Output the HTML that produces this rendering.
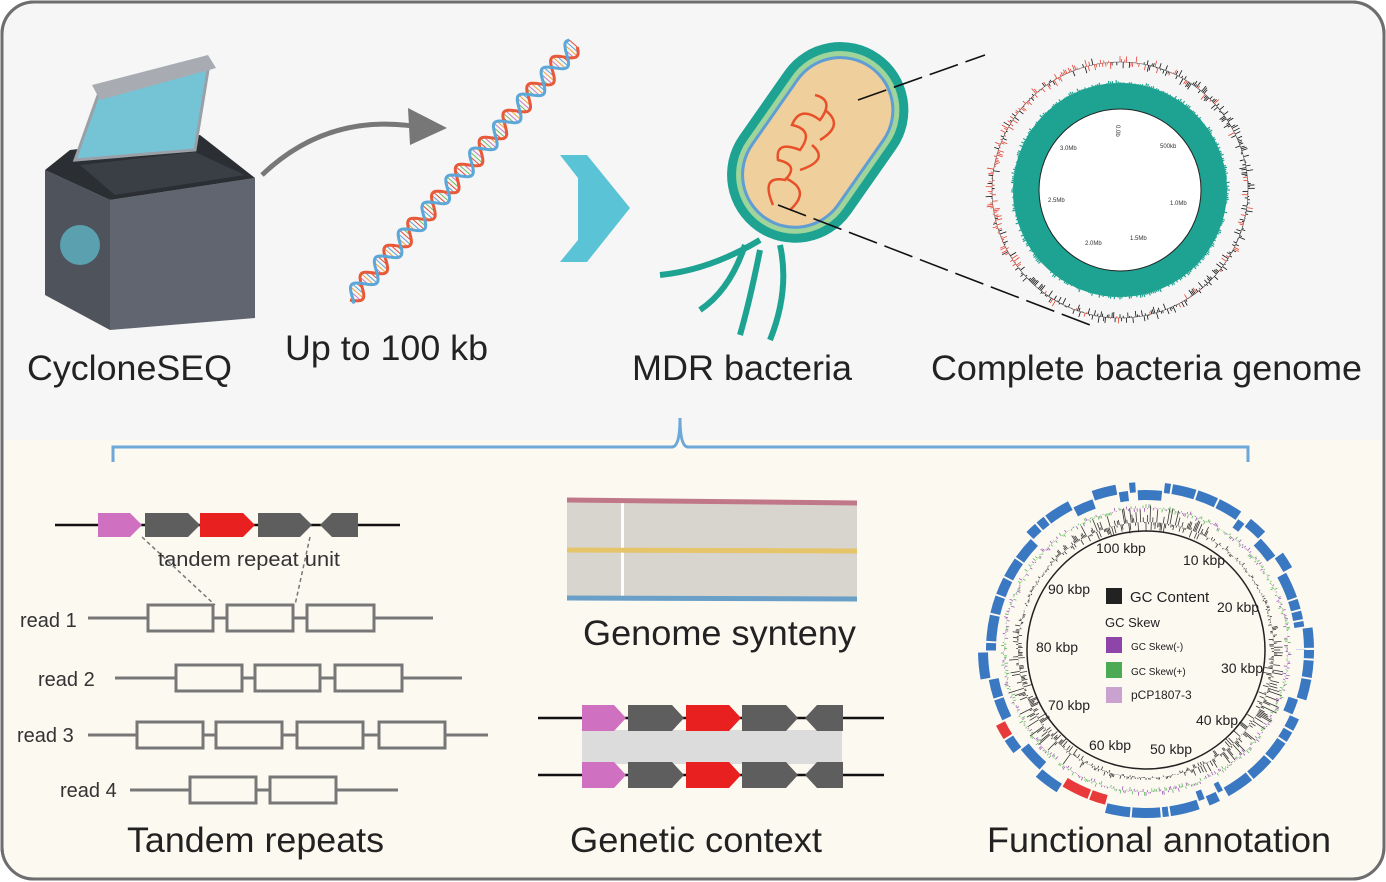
<!DOCTYPE html>
<html><head><meta charset="utf-8"><style>
html,body{margin:0;padding:0;background:#fff;}
svg{display:block;font-family:"Liberation Sans",Arial,sans-serif;}
</style></head><body>
<svg id="s" width="1386" height="882" viewBox="0 0 1386 882" xmlns="http://www.w3.org/2000/svg">
<rect x="2" y="2" width="1382" height="877" rx="32" fill="#f6f6f6" stroke="#6e6e6e" stroke-width="3"/>
<path d="M4 440 H1382 V848 Q1382 877 1352 877 H34 Q4 877 4 848 Z" fill="#fcf9f1"/>
<rect x="2" y="2" width="1382" height="877" rx="32" fill="none" stroke="#6e6e6e" stroke-width="3"/>
<path d="M113 462 V447 H672 Q680 447 680 418 Q680 447 688 447 H1248 V462" fill="none" stroke="#6ea8d8" stroke-width="3"/>

<g>
<path d="M45 170 L110 200 L110 330 L45 295 Z" fill="#4e535c"/>
<path d="M110 200 L255 178 L255 318 L110 330 Z" fill="#60656f"/>
<path d="M45 170 L70 150 L200 135 L255 178 L110 200 Z" fill="#2b2e33"/>
<path d="M75 160 L100 90 L205 62 L208 70 L195 150 Z" fill="#74c4d6" stroke="#9aa0a8" stroke-width="3"/>
<path d="M92 85 L208 55 L216 68 L100 100 Z" fill="#a8acb2"/>
<path d="M80 165 L195 152 L245 175 L115 195 Z" fill="#3a3e45"/>
<circle cx="80" cy="245" r="20" fill="#5fb9c9" opacity="0.75"/>
</g>
<path d="M262 175 Q330 110 425 128" fill="none" stroke="#777" stroke-width="5"/>
<path d="M408 108 L447 128 L410 145 Z" fill="#777"/>
<g id="dna"></g>
<path d="M560 155 L587 155 L630 208 L587 262 L560 262 L578 240 L578 178 Z" fill="#5bc3d6"/>
<g transform="rotate(35 818 142)">
<rect x="750" y="35" width="136" height="215" rx="68" fill="#1ea393"/>
<rect x="759" y="44" width="118" height="197" rx="59" fill="#9fd49a"/>
<rect x="764" y="49" width="108" height="187" rx="54" fill="#5f9dd4"/>
<rect x="767" y="52" width="102" height="181" rx="51" fill="#efcf9c"/>
</g>
<path d="M760 240 Q710 270 660 275 M745 245 Q730 290 700 310 M760 250 Q750 300 740 335 M780 245 Q790 290 770 340" fill="none" stroke="#1ea393" stroke-width="6"/>
<path d="M773 205 Q760 175 785 180 Q800 165 778 160 Q775 140 800 150 Q815 130 792 125 Q800 105 820 120 Q835 100 815 95 M790 210 Q812 190 785 178 M800 170 Q830 160 812 145 M820 140 Q845 125 825 110" fill="none" stroke="#e8502a" stroke-width="2.5"/>
<path d="M858 100 L985 55 M778 205 L1090 325" stroke="#111" stroke-width="1.6" stroke-dasharray="30 8"/>
<g id="cg"></g>
<circle cx="1120" cy="190" r="94" fill="none" stroke="#1ea393" stroke-width="26"/>
<circle cx="1120" cy="190" r="81" fill="#fff" stroke="#222" stroke-width="1"/>
<g font-size="6" fill="#333">
<text x="1116" y="125" transform="rotate(90 1116 125)">0.0b</text>
<text x="1160" y="148">500kb</text><text x="1170" y="205">1.0Mb</text>
<text x="1130" y="240">1.5Mb</text><text x="1085" y="245">2.0Mb</text>
<text x="1048" y="202">2.5Mb</text><text x="1060" y="150">3.0Mb</text>
</g>

<g font-size="35" fill="#222">
<text x="27" y="380" textLength="205" lengthAdjust="spacingAndGlyphs">CycloneSEQ</text>
<text x="285" y="360" textLength="203" lengthAdjust="spacingAndGlyphs">Up to 100 kb</text>
<text x="632" y="380" textLength="220" lengthAdjust="spacingAndGlyphs">MDR bacteria</text>
<text x="931" y="380" textLength="431" lengthAdjust="spacingAndGlyphs">Complete bacteria genome</text>
<text x="127" y="852" textLength="257" lengthAdjust="spacingAndGlyphs">Tandem repeats</text>
<text x="583" y="645" textLength="273" lengthAdjust="spacingAndGlyphs">Genome synteny</text>
<text x="570" y="852" textLength="252" lengthAdjust="spacingAndGlyphs">Genetic context</text>
<text x="987" y="852" textLength="344" lengthAdjust="spacingAndGlyphs">Functional annotation</text>
</g>

<line x1="55" y1="525" x2="400" y2="525" stroke="#111" stroke-width="2.5"/>
<g id="ta"></g>
<path d="M142 537 L215 605 M310 537 L295 605" stroke="#777" stroke-width="1.5" stroke-dasharray="4 3"/>
<text x="158" y="566" font-size="20" fill="#333" textLength="182" lengthAdjust="spacingAndGlyphs">tandem repeat unit</text>
<g font-size="20" fill="#333">
<text x="20" y="627">read 1</text><text x="38" y="686">read 2</text>
<text x="17" y="742">read 3</text><text x="60" y="797">read 4</text>
</g>
<g stroke="#777" stroke-width="3" fill="none">
<line x1="88" y1="618" x2="433" y2="618"/><line x1="115" y1="678" x2="462" y2="678"/>
<line x1="88" y1="735" x2="488" y2="735"/><line x1="130" y1="790" x2="398" y2="790"/>
<rect x="148" y="605" width="65" height="26" fill="#fcf9f1"/><rect x="227" y="605" width="66" height="26" fill="#fcf9f1"/><rect x="307" y="605" width="67" height="26" fill="#fcf9f1"/>
<rect x="176" y="665" width="66" height="26" fill="#fcf9f1"/><rect x="255" y="665" width="65" height="26" fill="#fcf9f1"/><rect x="335" y="665" width="67" height="26" fill="#fcf9f1"/>
<rect x="137" y="722" width="66" height="26" fill="#fcf9f1"/><rect x="216" y="722" width="66" height="26" fill="#fcf9f1"/><rect x="297" y="722" width="66" height="26" fill="#fcf9f1"/><rect x="379" y="722" width="66" height="26" fill="#fcf9f1"/>
<rect x="190" y="777" width="66" height="26" fill="#fcf9f1"/><rect x="270" y="777" width="66" height="26" fill="#fcf9f1"/>
</g>
<path d="M567 502 L857 502 L857 598 L567 598 Z" fill="#d8d5cf"/>
<rect x="621" y="502" width="3" height="96" fill="#fff"/>
<line x1="567" y1="500" x2="857" y2="503" stroke="#c07888" stroke-width="5"/>
<line x1="567" y1="550" x2="857" y2="551" stroke="#e6c46a" stroke-width="5"/>
<line x1="567" y1="598" x2="857" y2="599" stroke="#6aa0c8" stroke-width="5"/>
<rect x="582" y="730" width="260" height="34" fill="#dcdcdc"/>
<line x1="538" y1="718" x2="884" y2="718" stroke="#111" stroke-width="2.5"/>
<line x1="538" y1="775" x2="884" y2="775" stroke="#111" stroke-width="2.5"/>
<g id="gc"></g>
<g id="fa"></g>
<circle cx="1146" cy="650" r="119" fill="none" stroke="#222" stroke-width="1.5"/>
<g font-size="14" fill="#222">
<text x="1096" y="553">100 kbp</text><text x="1183" y="565">10 kbp</text>
<text x="1048" y="594">90 kbp</text><text x="1217" y="612">20 kbp</text>
<text x="1036" y="652">80 kbp</text><text x="1221" y="673">30 kbp</text>
<text x="1048" y="710">70 kbp</text><text x="1196" y="725">40 kbp</text>
<text x="1089" y="750">60 kbp</text><text x="1150" y="754">50 kbp</text>
<rect x="1106" y="588" width="16" height="16" fill="#222"/><text x="1130" y="602" font-size="15">GC Content</text>
<text x="1105" y="627" font-size="13">GC Skew</text>
<rect x="1106" y="637" width="16" height="16" fill="#8e44a8"/><text x="1131" y="650" font-size="10">GC Skew(-)</text>
<rect x="1106" y="662" width="16" height="16" fill="#4caa55"/><text x="1131" y="675" font-size="10">GC Skew(+)</text>
<rect x="1106" y="687" width="16" height="16" fill="#c9a2d0"/><text x="1131" y="699" font-size="12">pCP1807-3</text>
</g>
</svg>
<script>
var NS="http://www.w3.org/2000/svg";
function el(p,t,a){var e=document.createElementNS(NS,t);for(var k in a)e.setAttribute(k,a[k]);p.appendChild(e);return e;}
var seed=7;function rnd(){seed=(seed*9301+49297)%233280;return seed/233280;}
var dg=document.getElementById('dna');var x0=350,y0=300,x1=575,y1=45;var L=Math.hypot(x1-x0,y1-y0);var ux=(x1-x0)/L,uy=(y1-y0)/L,nx=-uy,ny=ux;
var pa="",pb="";var cols=["#e84a3a","#f2a23a","#6bbf5a","#5aa0d8","#c77ac9"];
for(var i=0;i<=200;i++){var t=i/200*L;var ph=t/36*2*Math.PI;var a=Math.sin(ph)*9,b=Math.sin(ph+Math.PI*0.8)*9;
var cx=x0+ux*t,cy=y0+uy*t;pa+=(i?"L":"M")+(cx+nx*a).toFixed(1)+" "+(cy+ny*a).toFixed(1);pb+=(i?"L":"M")+(cx+nx*b).toFixed(1)+" "+(cy+ny*b).toFixed(1);
if(i%2==0)el(dg,'line',{x1:cx+nx*a,y1:cy+ny*a,x2:cx+nx*b,y2:cy+ny*b,stroke:cols[i%5],'stroke-width':1});}
el(dg,'path',{d:pa,fill:'none',stroke:'#e8593a','stroke-width':3});el(dg,'path',{d:pb,fill:'none',stroke:'#5aa7d8','stroke-width':3});
var g=document.getElementById('cg');var gx=1120,gy=190;
el(g,'circle',{cx:gx,cy:gy,r:128,fill:'none',stroke:'#555','stroke-width':0.6});
for(var i=0;i<500;i++){var an=i/500*2*Math.PI;var r0=128;var h=(rnd()-0.5)*14;var c=Math.cos(an),s=Math.sin(an);
var col=(c<0.2&&s<0.6)?(rnd()<0.75?"#e8402f":"#111"):(rnd()<0.85?"#111":"#e8402f");
el(g,'line',{x1:gx+c*r0,y1:gy+s*r0,x2:gx+c*(r0+h),y2:gy+s*(r0+h),stroke:col,'stroke-width':0.8});}
for(var i=0;i<360;i++){var an=i/360*2*Math.PI;var h=rnd()*4;el(g,'line',{x1:gx+Math.cos(an)*106,y1:gy+Math.sin(an)*106,x2:gx+Math.cos(an)*(106+h),y2:gy+Math.sin(an)*(106+h),stroke:'#1ea393','stroke-width':1.2});}
function arr(p,x,w,y,h,col,rev){var tip=12;var pd;if(!rev)pd="M"+x+" "+(y-h/2)+"H"+(x+w-tip)+"L"+(x+w)+" "+y+"L"+(x+w-tip)+" "+(y+h/2)+"H"+x+"Z";
else pd="M"+(x+w)+" "+(y-h/2)+"H"+(x+tip)+"L"+x+" "+y+"L"+(x+tip)+" "+(y+h/2)+"H"+(x+w)+"Z";el(p,'path',{d:pd,fill:col});}
var ta=document.getElementById('ta');
arr(ta,98,44,525,24,"#d070c0");arr(ta,145,55,525,24,"#5e5e5e");arr(ta,200,55,525,24,"#e82020");arr(ta,258,54,525,24,"#5e5e5e");arr(ta,320,38,525,24,"#5e5e5e",1);
var gc=document.getElementById('gc');
[718,775].forEach(function(y){arr(gc,582,44,y,26,"#d070c0");arr(gc,628,56,y,26,"#5e5e5e");arr(gc,686,55,y,26,"#e82020");arr(gc,742,56,y,26,"#5e5e5e");arr(gc,805,38,y,26,"#5e5e5e",1);});
var fa=document.getElementById('fa');var fx=1146,fy=650;
function arc(r1,r2,a1,a2,col){var p="M"+(fx+r1*Math.cos(a1))+" "+(fy+r1*Math.sin(a1))+"A"+r1+" "+r1+" 0 0 1 "+(fx+r1*Math.cos(a2))+" "+(fy+r1*Math.sin(a2))+"L"+(fx+r2*Math.cos(a2))+" "+(fy+r2*Math.sin(a2))+"A"+r2+" "+r2+" 0 0 0 "+(fx+r2*Math.cos(a1))+" "+(fy+r2*Math.sin(a1))+"Z";el(fa,'path',{d:p,fill:col});}
var a=0;while(a<2*Math.PI){var w=0.03+rnd()*0.15;var out=rnd()<0.5;var col="#3a78c2";var deg=(a*180/Math.PI);
if((deg>98&&deg<112)||(deg>145&&deg<150)||(deg>283&&deg<287))col="#e83a3a";if(deg>316&&deg<320)col="#222";
arc(out?168:160,out?158:150,a,Math.min(a+w,2*Math.PI),col);a+=w+0.012;}
for(var i=0;i<600;i++){var an=i/600*2*Math.PI;var h=(rnd()-0.5)*8;el(fa,'line',{x1:fx+Math.cos(an)*142,y1:fy+Math.sin(an)*142,x2:fx+Math.cos(an)*(142+h),y2:fy+Math.sin(an)*(142+h),stroke:rnd()<0.5?"#9b59b6":"#5cb85c",'stroke-width':0.8});}
for(var i=0;i<600;i++){var an=i/600*2*Math.PI;var h=rnd()*8*(Math.sin(an*3)+1.3);var sg=(rnd()<0.5)?1:-0.6;el(fa,'line',{x1:fx+Math.cos(an)*128,y1:fy+Math.sin(an)*128,x2:fx+Math.cos(an)*(128+h*sg),y2:fy+Math.sin(an)*(128+h*sg),stroke:"#333",'stroke-width':0.8});}
</script>
</body></html>
